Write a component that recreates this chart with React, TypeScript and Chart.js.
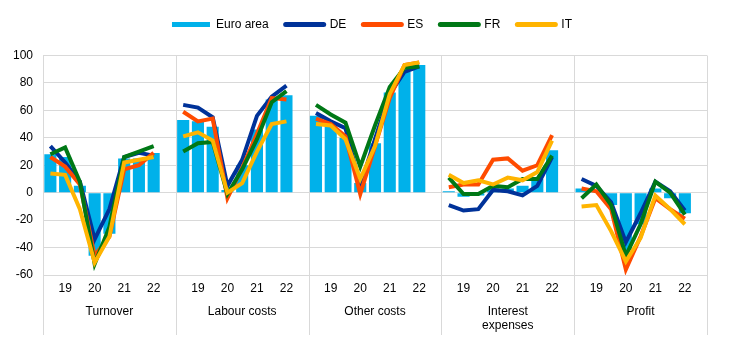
import React, { useEffect, useRef } from 'react';
import { Chart, registerables } from 'chart.js';

Chart.register(...registerables);

// ---- data ----
const groups: (string | string[])[] = ['Turnover', 'Labour costs', 'Other costs', ['Interest', 'expenses'], 'Profit'];
const periodLabels = ['', '19', '', '20', '', '21', '', '22', ''];
const yMin = -60;
const yMax = 100;
const yStep = 20;

// 8 half-year values per group: Turnover, Labour costs, Other costs, Interest expenses, Profit
const euroArea = [
  28, 26, 5, -46, -30, 25, 25, 29,
  53, 52, 48, 2, 20, 46, 68, 71,
  56, 49, 40, 7, 36, 73, 88, 93,
  1, -3, -2, 3, 3, 5, 10, 31,
  3, 1, -9, -42, -23, 3, -4, -15,
];
const de = [
  34, 22, 8, -34, -12, 26, 29, 27,
  64, 62, 55, 5, 24, 56, 70, 78,
  58, 52, 47, 5, 39, 72, 88, 92,
  -9, -13, -12, 2, 1, -2, 5, 26,
  10, 5, -7, -36, -15, 8, 1, -13,
];
const es = [
  26, 19, 6, -46, -32, 17, 20, 29,
  59, 52, 54, -4, 18, 43, 69, 68,
  54, 50, 41, -1, 34, 69, 93, 95,
  4, 6, 6, 24, 25, 16, 20, 42,
  3, 1, -12, -56, -32, -4, -12, -19,
];
const fr = [
  28, 33, 8, -52, -25, 26, 30, 34,
  30, 36, 37, -1, 17, 39, 66, 74,
  64, 57, 51, 19, 49, 77, 91, 92,
  11, -1, -1, 5, 4, 10, 10, 27,
  -4, 6, -9, -46, -23, 8, 0, -16,
];
const it = [
  14, 13, -12, -51, -32, 22, 24, 26,
  41, 44, 38, 0, 7, 30, 50, 52,
  50, 49, 39, 10, 34, 72, 93, 95,
  13, 7, 9, 6, 11, 9, 15, 38,
  -10, -9, -28, -50, -33, -2, -12, -23,
];

const seriesNames = ['Euro area', 'DE', 'ES', 'FR', 'IT'];
const colors = ['#00B1EA', '#003299', '#FF4B00', '#007816', '#FFB400'];

const perGroup = periodLabels.length - 1;

function expand(values: number[]): (number | null)[] {
  const out: (number | null)[] = [];
  groups.forEach((_, g) => {
    out.push(...values.slice(g * perGroup, g * perGroup + perGroup), null);
  });
  return out;
}

const xLabels = groups.flatMap(() => periodLabels);

const FONT = '"Liberation Sans", Arial, Helvetica, sans-serif';

const legendSpacing = {
  id: 'legendSpacing',
  beforeInit(chart: any) {
    const legend = chart.legend;
    if (!legend) return;
    const origFit = legend.fit;
    legend.fit = function () {
      origFit.call(this);
      this.height += 15;
    };
  },
};

const separators = {
  id: 'separators',
  beforeDatasetsDraw(chart: any) {
    const { ctx, chartArea, scales } = chart;
    const xs = scales.x;
    const x2 = scales.x2;
    const bottom = x2.bottom - 16;
    ctx.save();
    ctx.strokeStyle = '#d9d9d9';
    ctx.lineWidth = 1;
    for (let g = 0; g <= groups.length; g++) {
      const px = Math.round(xs.left + (g * xs.width) / groups.length) + 0.5;
      ctx.beginPath();
      ctx.moveTo(px, chartArea.top);
      ctx.lineTo(px, bottom);
      ctx.stroke();
    }
    ctx.restore();
  },
};

export default function App() {
  const canvasRef = useRef<HTMLCanvasElement | null>(null);

  useEffect(() => {
    if (!canvasRef.current) return;
    Chart.defaults.font.family = FONT;
    Chart.defaults.font.size = 12;
    Chart.defaults.color = '#000';

    const lineSeries = [de, es, fr, it];
    const datasets: any[] = [
      {
        type: 'bar',
        label: seriesNames[0],
        data: expand(euroArea),
        backgroundColor: colors[0],
        borderWidth: 0,
        categoryPercentage: 1,
        barPercentage: 0.82,
        order: 10,
        xAxisID: 'x',
        yAxisID: 'y',
      },
      ...lineSeries.map((vals, i) => ({
        type: 'line',
        label: seriesNames[i + 1],
        data: expand(vals),
        borderColor: colors[i + 1],
        backgroundColor: colors[i + 1],
        borderWidth: 4,
        pointRadius: 0,
        pointHoverRadius: 0,
        tension: 0,
        fill: false,
        spanGaps: false,
        order: 4 - i,
        xAxisID: 'x',
        yAxisID: 'y',
      })),
    ];

    const chart = new Chart(canvasRef.current, {
      type: 'bar',
      data: { labels: xLabels, datasets },
      options: {
        animation: false,
        responsive: true,
        maintainAspectRatio: false,
        events: [],
        layout: { padding: { left: 0, right: 0, top: 1.5, bottom: 0 } },
        plugins: {
          tooltip: { enabled: false },
          legend: {
            position: 'top',
            labels: {
              usePointStyle: true,
              pointStyleWidth: 38,
              boxHeight: 5,
              padding: 17,
              color: '#000',
              font: { family: FONT, size: 12 },
              generateLabels: (c: any) =>
                c.data.datasets.map((ds: any, i: number) => ({
                  text: ds.label,
                  fillStyle: colors[i],
                  strokeStyle: colors[i],
                  lineWidth: 5,
                  lineCap: i === 0 ? 'butt' : 'round',
                  pointStyle: 'line',
                  hidden: false,
                  datasetIndex: i,
                  fontColor: '#000',
                })),
            },
          },
        },
        scales: {
          x: {
            type: 'category',
            offset: true,
            weight: 0,
            grid: { display: false, drawTicks: false },
            border: { display: false },
            ticks: { autoSkip: false, maxRotation: 0, minRotation: 0, padding: 6, color: '#000', font: { family: FONT, size: 12 } },
            afterFit: (s: any) => {
              s.height = 22;
            },
          },
          x2: {
            type: 'category',
            position: 'bottom',
            labels: groups as any,
            offset: true,
            weight: 1,
            grid: { display: false, drawTicks: false },
            border: { display: false },
            ticks: { autoSkip: false, maxRotation: 0, minRotation: 0, padding: 7.5, color: '#000', font: { family: FONT, size: 12 } },
            afterFit: (s: any) => {
              s.height = 54;
            },
          },
          y: {
            type: 'linear',
            min: yMin,
            max: yMax,
            grid: { color: '#d9d9d9', drawTicks: false, lineWidth: 1 },
            border: { display: false },
            ticks: { stepSize: yStep, padding: 10, color: '#000', font: { family: FONT, size: 12 } },
            afterFit: (s: any) => {
              s.width = 43;
            },
          },
          yR: {
            type: 'linear',
            position: 'right',
            display: true,
            grid: { display: false, drawTicks: false },
            border: { display: false },
            ticks: { display: false },
            afterFit: (s: any) => {
              s.width = 37;
            },
          },
        },
      } as any,
      plugins: [legendSpacing, separators],
    });

    return () => {
      chart.destroy();
    };
  }, []);

  return (
    <div style={{ position: 'absolute', left: 0, top: 0, width: 744, height: 351, background: '#fff' }}>
      <canvas ref={canvasRef} />
    </div>
  );
}
